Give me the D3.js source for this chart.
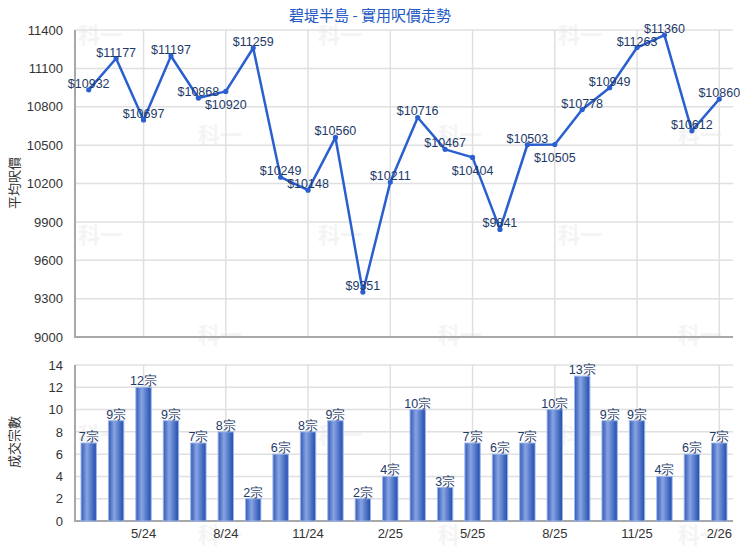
<!DOCTYPE html>
<html>
<head>
<meta charset="utf-8">
<script src="https://cdn.jsdelivr.net/npm/d3@7/dist/d3.min.js"></script>
<style>
  body { margin: 0; background: #fff; }
  svg { display: block; font-family: "Liberation Sans", Arial, sans-serif; }
</style>
</head>
<body>
<svg id="chart" width="740" height="550"></svg>
<script>
// data
var months = ["3/24","4/24","5/24","6/24","7/24","8/24","9/24","10/24","11/24","12/24","1/25","2/25",
              "3/25","4/25","5/25","6/25","7/25","8/25","9/25","10/25","11/25","12/25","1/26","2/26"];
var prices = [10932, 11177, 10697, 11197, 10868, 10920, 11259, 10249, 10148, 10560, 9351, 10211,
              10716, 10467, 10404, 9841, 10503, 10505, 10778, 10949, 11263, 11360, 10612, 10860];
var counts = [7, 9, 12, 9, 7, 8, 2, 6, 8, 9, 2, 4, 10, 3, 7, 6, 7, 10, 13, 9, 9, 4, 6, 7];
var priceTicks = [9000, 9300, 9600, 9900, 10200, 10500, 10800, 11100, 11400];
var countTicks = [0, 2, 4, 6, 8, 10, 12, 14];
var monthTicks = ["5/24","8/24","11/24","2/25","5/25","8/25","11/25","2/26"];
var title = "碧堤半島 - 實用呎價走勢";

// which price labels sit under their point
var labelBelow = ["8/24", "5/25", "8/25"];

var svg = d3.select("#chart");
var left = 75, right = 733;

var x = d3.scaleBand().domain(months).range([left, right]);
var cx = d => x(d) + x.bandwidth() / 2;

var yTop = d3.scaleLinear().domain([9000, 11400]).range([337, 30]);
var yBot = d3.scaleLinear().domain([0, 14]).range([521, 365]);

var gridColor = "#e0e0e0";
var axisColor = "#a8a8a8";
var labelColor = "#1e3a68";

// faint watermark
var wm = [];
[35, 135, 235, 335, 435, 535].forEach(function(yy, r) {
  var xs = (r % 2 == 0) ? [100, 340, 580] : [220, 460, 700];
  xs.forEach(xx => wm.push([xx, yy]));
});
svg.append("g").selectAll("text")
  .data(wm).enter().append("text")
    .attr("x", d => d[0]).attr("y", d => d[1] + 8)
    .attr("text-anchor", "middle")
    .attr("font-size", 22)
    .attr("font-weight", "bold")
    .attr("font-family", "Noto Sans CJK TC")
    .attr("fill", "#f4f4f4")
    .text("科一");

// title
svg.append("text")
  .attr("x", 370).attr("y", 21)
  .attr("text-anchor", "middle")
  .attr("font-size", 15)
  .attr("fill", "#2259c4")
  .attr("font-family", "Noto Sans CJK TC")
  .text(title);

function drawFrame(y, ticks, top, bottom) {
  var g = svg.append("g");
  g.selectAll(".hgrid").data(ticks).enter().append("line")
    .attr("x1", left).attr("x2", right)
    .attr("y1", d => y(d)).attr("y2", d => y(d))
    .attr("stroke", gridColor).attr("stroke-width", 1.5);
  g.selectAll(".vgrid").data(monthTicks).enter().append("line")
    .attr("x1", d => cx(d)).attr("x2", d => cx(d))
    .attr("y1", top).attr("y2", bottom)
    .attr("stroke", gridColor).attr("stroke-width", 1.5);

  var ax = g.append("g")
    .attr("transform", `translate(${left},0)`)
    .call(d3.axisLeft(y).tickValues(ticks).tickFormat(d3.format("d")).tickSize(0).tickPadding(12));
  ax.select(".domain").remove();
  ax.selectAll("text")
    .attr("font-size", 13)
    .attr("font-family", "Liberation Sans, Arial, sans-serif")
    .attr("fill", "#333");

  g.append("line")
    .attr("x1", left).attr("x2", left).attr("y1", top).attr("y2", bottom + 1)
    .attr("stroke", axisColor).attr("stroke-width", 2);
  g.append("line")
    .attr("x1", left).attr("x2", right).attr("y1", bottom).attr("y2", bottom)
    .attr("stroke", axisColor).attr("stroke-width", 2);
  return g;
}

// top chart: price line
drawFrame(yTop, priceTicks, 30, 337);

var line = d3.line().x((d, i) => cx(months[i])).y(d => yTop(d));
svg.append("path")
  .datum(prices)
  .attr("d", line)
  .attr("fill", "none")
  .attr("stroke", "#2a5fd0")
  .attr("stroke-width", 2.5)
  .attr("stroke-linejoin", "round");

svg.append("g").selectAll("circle")
  .data(prices).enter().append("circle")
    .attr("cx", (d, i) => cx(months[i]))
    .attr("cy", d => yTop(d))
    .attr("r", 2.6)
    .attr("fill", "#2a5fd0");

svg.append("g").selectAll("text")
  .data(prices).enter().append("text")
    .attr("x", (d, i) => cx(months[i]))
    .attr("y", (d, i) => labelBelow.indexOf(months[i]) >= 0 ? yTop(d) + 18 : yTop(d) - 2)
    .attr("text-anchor", "middle")
    .attr("font-size", 12.5)
    .attr("fill", labelColor)
    .text(d => "$" + d);

svg.append("text")
  .attr("transform", "translate(19,183) rotate(-90)")
  .attr("text-anchor", "middle")
  .attr("font-size", 13)
  .attr("font-family", "Noto Sans CJK TC")
  .attr("fill", "#333")
  .text("平均呎價");

// bottom chart: counts
drawFrame(yBot, countTicks, 365, 521);

var grad = svg.append("defs").append("linearGradient")
  .attr("id", "barGrad").attr("x1", "0").attr("x2", "1").attr("y1", "0").attr("y2", "0");
grad.append("stop").attr("offset", "0%").attr("stop-color", "#3259b8");
grad.append("stop").attr("offset", "38%").attr("stop-color", "#88a4e2");
grad.append("stop").attr("offset", "100%").attr("stop-color", "#1f4cae");

var barW = x.bandwidth() * 0.56;
svg.append("g").selectAll("rect")
  .data(counts).enter().append("rect")
    .attr("x", (d, i) => cx(months[i]) - barW / 2)
    .attr("y", d => yBot(d))
    .attr("width", barW)
    .attr("height", d => yBot(0) - yBot(d))
    .attr("fill", "url(#barGrad)")
    .attr("stroke", "#9db6ea")
    .attr("stroke-width", 1);

svg.append("g").selectAll("text")
  .data(counts).enter().append("text")
    .attr("x", (d, i) => cx(months[i]))
    .attr("y", d => yBot(d) - 2)
    .attr("text-anchor", "middle")
    .attr("font-size", 12.5)
    .attr("fill", labelColor)
    .text(d => d + "宗");

var xa = svg.append("g")
  .attr("transform", "translate(0,521)")
  .call(d3.axisBottom(x).tickValues(monthTicks).tickSize(0).tickPadding(8));
xa.select(".domain").remove();
xa.selectAll("text")
  .attr("font-size", 13)
  .attr("font-family", "Liberation Sans, Arial, sans-serif")
  .attr("fill", "#333");

svg.append("text")
  .attr("transform", "translate(19,442) rotate(-90)")
  .attr("text-anchor", "middle")
  .attr("font-size", 13)
  .attr("font-family", "Noto Sans CJK TC")
  .attr("fill", "#333")
  .text("成交宗數");
</script>
</body>
</html>
